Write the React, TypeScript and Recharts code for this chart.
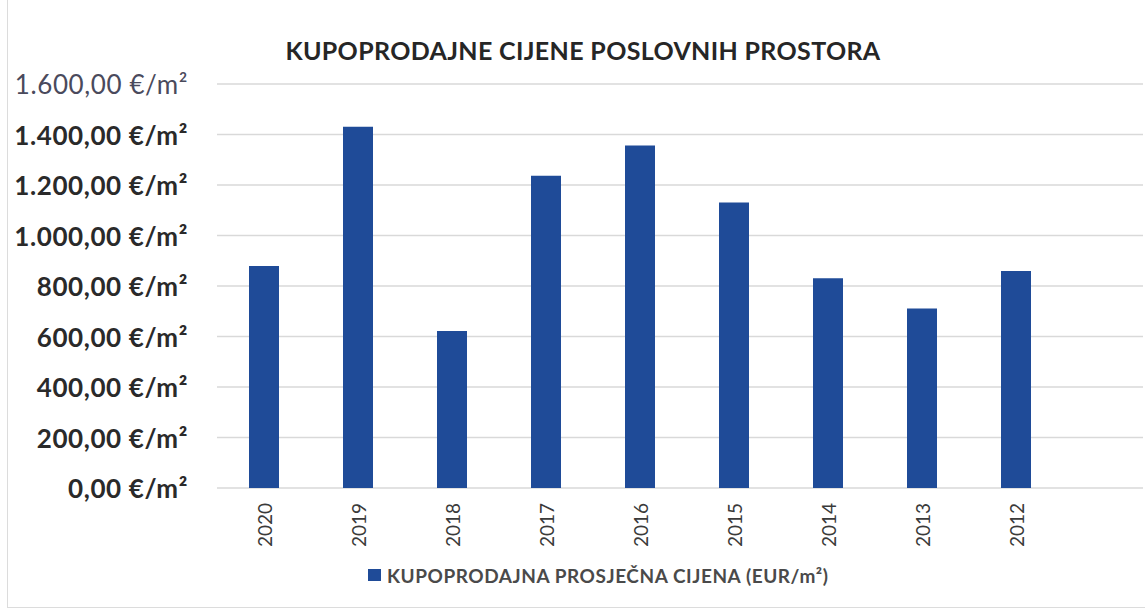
import { BarChart, Bar, XAxis, YAxis, CartesianGrid, Legend } from "recharts";

const years = ["2020", "2019", "2018", "2017", "2016", "2015", "2014", "2013", "2012"];
const prices = [879, 1431, 622, 1237, 1356, 1131, 831, 711, 859];
const yTicks = [0, 200, 400, 600, 800, 1000, 1200, 1400, 1600];

const seriesName = "KUPOPRODAJNA PROSJEČNA CIJENA (EUR/m²)";
const title = "KUPOPRODAJNE CIJENE POSLOVNIH PROSTORA";

const BLUE = "#1f4b98";
const FONT = "Lato, 'Open Sans', sans-serif";

const data = years.map((year, i) => ({ year, price: prices[i] }));

const fmt = (v: number) => {
  const whole = Math.round(v).toString().replace(/\B(?=(\d{3})+(?!\d))/g, ".");
  return `${whole},00 €/m²`;
};

const YTick = (props: any) => {
  const { x, y, payload } = props;
  const top = payload.value === 1600;
  return (
    <text
      x={x}
      y={y}
      textAnchor="end"
      dominantBaseline="central"
      fontFamily={FONT}
      fontSize={26}
      letterSpacing={0.6}
      fontWeight={top ? 400 : 700}
      fill={top ? "#4a4a5c" : "#2a2a2a"}
    >
      {fmt(payload.value)}
    </text>
  );
};

const XTick = (props: any) => {
  const { x, y, payload } = props;
  return (
    <g transform={`translate(${x},${y + 7})`}>
      <text
        transform="rotate(-90)"
        textAnchor="end"
        dominantBaseline="central"
        fontFamily={FONT}
        fontSize={19}
        fill="#3a3a3a"
      >
        {payload.value}
      </text>
    </g>
  );
};

const LegendContent = () => (
  <div style={{ display: "flex", alignItems: "center", height: 30, marginLeft: 368, fontFamily: FONT }}>
    <span style={{ display: "inline-block", width: 13, height: 12, background: BLUE, marginRight: 6 }} />
    <span style={{ fontSize: 19, letterSpacing: 0.55, fontWeight: 700, color: "#4a4a4a" }}>{seriesName}</span>
  </div>
);

export default function App() {
  return (
    <div style={{ position: "fixed", left: 0, top: 0, width: 1145, height: 609, background: "#fff" }}>
      <div
        style={{
          position: "absolute",
          left: 7,
          top: 0,
          width: 1138,
          height: 607,
          borderLeft: "1px solid #dcdcdc",
          borderBottom: "1px solid #dcdcdc",
        }}
      />
      <div
        style={{
          position: "absolute",
          left: 0,
          width: 1166,
          top: 35,
          textAlign: "center",
          fontFamily: FONT,
          fontSize: 25,
          letterSpacing: 0.35,
          fontWeight: 700,
          color: "#262626",
        }}
      >
        {title}
      </div>
      <BarChart
        width={1145}
        height={609}
        data={data}
        margin={{ top: 84, right: 2, left: 0, bottom: 19 }}
        barSize={30}
      >
        <CartesianGrid vertical={false} stroke="#d9d9d9" strokeWidth={1.5} />
        <XAxis
          dataKey="year"
          height={72}
          axisLine={false}
          tickLine={false}
          interval={0}
          tick={<XTick />}
          padding={{ left: 0, right: 80 }}
        />
        <YAxis
          width={217}
          domain={[0, 1600]}
          ticks={yTicks}
          axisLine={false}
          tickLine={false}
          tickSize={0}
          tickMargin={29}
          tick={<YTick />}
        />
        <Legend
          verticalAlign="bottom"
          content={<LegendContent />}
          wrapperStyle={{ left: 0, width: 1145 }}
        />
        <Bar dataKey="price" name={seriesName} fill={BLUE} isAnimationActive={false} />
      </BarChart>
    </div>
  );
}
